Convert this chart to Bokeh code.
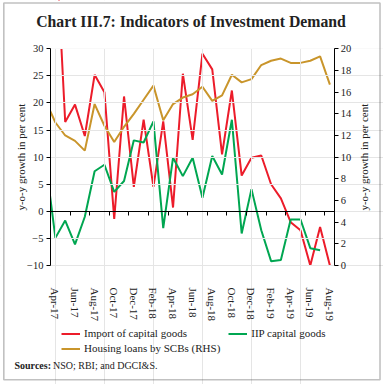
import math
from bokeh.plotting import figure
from bokeh.models import (Range1d, LinearAxis, FixedTicker, Legend, LegendItem,
                          Label, BoxAnnotation, ColumnDataSource)
from bokeh.embed import file_html
from bokeh.resources import INLINE

# ---- data ----
months = ["Mar-17", "Apr-17", "May-17", "Jun-17", "Jul-17", "Aug-17", "Sep-17", "Oct-17",
          "Nov-17", "Dec-17", "Jan-18", "Feb-18", "Mar-18", "Apr-18", "May-18", "Jun-18",
          "Jul-18", "Aug-18", "Sep-18", "Oct-18", "Nov-18", "Dec-18", "Jan-19", "Feb-19",
          "Mar-19", "Apr-19", "May-19", "Jun-19", "Jul-19", "Aug-19"]
import_capital_goods = [40.0, 52.0, 16.5, 19.7, 13.9, 25.2, 22.0, -1.4, 21.2, 4.5, 16.9, 4.5,
                        16.6, 0.7, 25.4, 13.2, 29.1, 26.2, 10.5, 22.3, 6.6, 9.9, 10.3, 5.0,
                        2.4, -2.0, -3.5, -10.0, -2.9, -10.0]
iip_capital_goods = [9.3, -4.9, -1.7, -6.1, -1.0, 7.4, 8.6, 3.6, 5.6, 13.1, 12.7, 16.6,
                     -3.1, 9.9, 6.5, 9.9, 2.5, 10.2, 6.8, 16.9, -4.1, 4.1, -3.5, -9.2,
                     -9.0, -1.5, -1.5, -6.8, -7.2, float("nan")]
housing_loans_rhs = [15.2, 13.2, 12.0, 11.5, 10.6, 14.9, 12.9, 11.4, 12.8, 14.0, 15.3, 16.6,
                     13.4, 14.9, 15.5, 15.8, 16.5, 15.2, 15.7, 17.6, 16.9, 17.2, 18.5, 18.9,
                     19.1, 18.7, 18.7, 18.9, 19.3, 16.7]
first_shown = "Apr-17"
tick_labels = ["Apr-17", "Jun-17", "Aug-17", "Oct-17", "Dec-17", "Feb-18", "Apr-18", "Jun-18",
               "Aug-18", "Oct-18", "Dec-18", "Feb-19", "Apr-19", "Jun-19", "Aug-19"]
left_ticks = [-10, -5, 0, 5, 10, 15, 20, 25, 30]
right_ticks = [0, 2, 4, 6, 8, 10, 12, 14, 16, 18, 20]
series_names = ["Import of capital goods", "IIP capital goods", "Housing loans by SCBs (RHS)"]
chart_title = "Chart III.7: Indicators of Investment Demand"
axis_title = "y-o-y growth in per cent"
source_head = "Sources:"
source_text = "NSO; RBI; and DGCI&S."

# ---- derived positions ----
start = months.index(first_shown)
xs = [i - start for i in range(len(months))]
n_shown = len(months) - start
label_pos = [months.index(m) - start for m in tick_labels]
boundary_ticks = [i + 0.5 for i in range(-1, n_shown, 2)]
x_lo, x_hi = -0.5, n_shown - 0.5
yl_lo, yl_hi = left_ticks[0], left_ticks[-1]
yr_lo, yr_hi = right_ticks[0], right_ticks[-1]

# ---- layout (pixels on the 383x384 canvas) ----
W, H = 383, 384
PL, PR, PT, PB = 50.0, 334.3, 48.3, 265.0          # plot area edges
sx = (PR - PL) / (x_hi - x_lo)
sy = (PB - PT) / (yl_hi - yl_lo)
sr = (PB - PT) / (yr_hi - yr_lo)
x_start = x_lo - PL / sx
y_top = yl_hi + PT / sy
r_top = yr_hi + PT / sr


def xd(px):
    return x_start + px / sx


def yd(py):
    return y_top - py / sy


SERIF = "Liberation Serif"
TXT = "#222222"
RED = "#EC1C2A"
GREEN = "#00A651"
GOLD = "#C9952B"

p = figure(width=W, height=H, output_backend="svg", toolbar_location=None,
           x_range=Range1d(xd(0), xd(W)), y_range=Range1d(yd(H), yd(0)),
           min_border=0, x_axis_location=None, y_axis_location=None)
p.extra_y_ranges = {"rhs": Range1d(r_top - H / sr, r_top)}
p.title.visible = False
p.outline_line_color = None
p.background_fill_color = "white"
p.border_fill_color = "white"

src = ColumnDataSource(dict(x=xs, imp=import_capital_goods, iip=iip_capital_goods,
                            hl=housing_loans_rhs))
r_imp = p.line("x", "imp", source=src, line_color=RED, line_width=2, level="underlay")
r_iip = p.line("x", "iip", source=src, line_color=GREEN, line_width=2, level="underlay")
r_hl = p.line("x", "hl", source=src, line_color=GOLD, line_width=2, level="underlay",
              y_range_name="rhs")

# keep the lines inside the plot area (outside it, paint white)
mask = dict(fill_color="white", fill_alpha=1.0, line_alpha=0, level="glyph")
p.add_layout(BoxAnnotation(right=x_lo, **mask))
p.add_layout(BoxAnnotation(bottom=yl_hi, **mask))


def style_axis(ax, size="10.5px"):
    ax.axis_line_color = "black"
    ax.axis_line_width = 1
    ax.major_tick_line_color = "black"
    ax.major_tick_in = 0
    ax.major_tick_out = 4
    ax.minor_tick_line_color = None
    ax.major_label_text_font = SERIF
    ax.major_label_text_font_size = size
    ax.major_label_text_color = TXT


ly = LinearAxis(ticker=FixedTicker(ticks=left_ticks, minor_ticks=[]),
                fixed_location=x_lo, bounds=(yl_lo, yl_hi))
style_axis(ly)
ly.major_label_standoff = 3
p.add_layout(ly, "left")

ry = LinearAxis(y_range_name="rhs", ticker=FixedTicker(ticks=right_ticks, minor_ticks=[]),
                fixed_location=x_hi, bounds=(yr_lo, yr_hi))
style_axis(ry)
ry.major_label_standoff = 2
p.add_layout(ry, "right")

zx = LinearAxis(ticker=FixedTicker(ticks=boundary_ticks, minor_ticks=[]),
                fixed_location=0, bounds=(x_lo, x_hi))
style_axis(zx)
zx.major_label_text_font_size = "0px"
zx.major_label_text_alpha = 0
p.add_layout(zx, "below")

lx = LinearAxis(ticker=FixedTicker(ticks=label_pos, minor_ticks=[]),
                fixed_location=yl_lo, bounds=(x_lo, x_hi),
                major_label_overrides={pos: lab for pos, lab in zip(label_pos, tick_labels)})
style_axis(lx, "11px")
lx.axis_line_color = None
lx.major_tick_line_color = None
lx.major_label_orientation = "vertical"
lx.major_label_standoff = 18
p.add_layout(lx, "below")

# texts
p.add_layout(Label(x=xd(190.5), y=yd(21), text=chart_title, text_font=SERIF,
                   text_font_size="15.75px", text_font_style="bold", text_color=TXT,
                   text_align="center", text_baseline="middle"))
for px in (20, 363):
    p.add_layout(Label(x=xd(px), y=yd((PT + PB) / 2), text=axis_title, angle=math.pi / 2,
                       text_font=SERIF, text_font_size="11px", text_color=TXT,
                       text_align="center", text_baseline="middle"))
p.add_layout(Label(x=xd(14), y=yd(365), text=source_head, text_font=SERIF,
                   text_font_size="10px", text_font_style="bold", text_color=TXT,
                   text_baseline="middle"))
p.add_layout(Label(x=xd(52.5), y=yd(365), text=source_text, text_font=SERIF,
                   text_font_size="10px", text_color=TXT, text_baseline="middle"))

# legends: location is the bottom-left corner, measured up from the canvas bottom
common = dict(padding=0, margin=0, border_line_color=None, background_fill_alpha=0,
              glyph_width=19, glyph_height=13, label_height=13, spacing=2, label_standoff=4,
              label_text_font=SERIF, label_text_font_size="11px", label_text_color=TXT)
legA = Legend(items=[LegendItem(label=series_names[0], renderers=[r_imp]),
                     LegendItem(label=series_names[2], renderers=[r_hl])],
              location=(61, H - (326.8 + 28)), orientation="vertical", **common)
legB = Legend(items=[LegendItem(label=series_names[1], renderers=[r_iip])],
              location=(228.3, H - (326.8 + 13)), orientation="vertical", **common)
p.add_layout(legA, "center")
p.add_layout(legB, "center")

# outer frame of the chart box
p.add_layout(BoxAnnotation(left=xd(3.3), right=xd(379.5), top=yd(2.5), bottom=yd(379.2),
                           fill_alpha=0, line_color="#333333", line_width=1.6))

open("out.html", "w").write(file_html(p, INLINE))
